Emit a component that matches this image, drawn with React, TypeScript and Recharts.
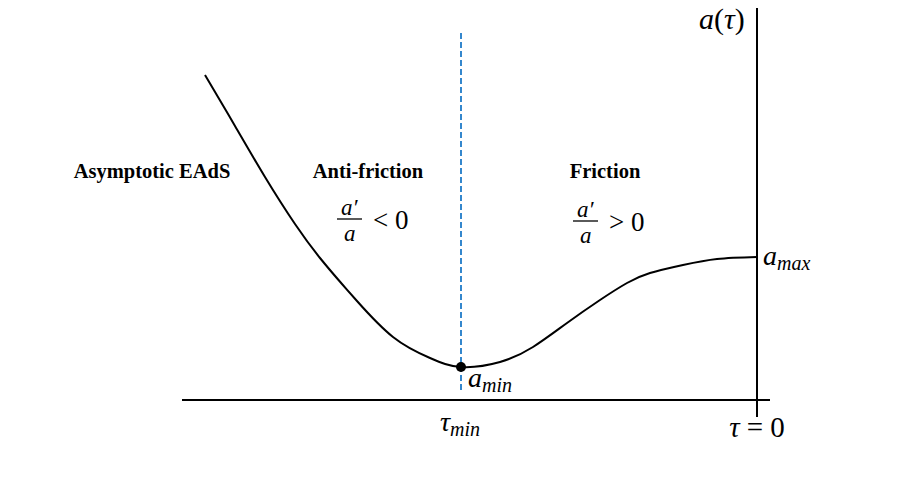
import React from 'react';
import { ComposedChart, Line, XAxis, YAxis, ReferenceLine, ReferenceDot } from 'recharts';

// conformal time tau (tau = 0 at the right) and scale factor a(tau)
const tauValues = [-5.52, -5.22, -4.92, -4.62, -4.37, -4.15, -4.0, -3.64, -3.27, -2.96, -2.57, -2.24, -1.9, -1.57, -1.3, -1.07, -0.74, -0.4, 0];
const scaleValues = [3.25, 2.74, 2.23, 1.76, 1.42, 1.16, 0.99, 0.63, 0.42, 0.33, 0.38, 0.53, 0.77, 1.0, 1.17, 1.27, 1.35, 1.41, 1.43];

const tauMin = -2.96;
const aMin = 0.33;
const aMax = 1.43;

const regionTitles = ['Asymptotic EAdS', 'Anti-friction', 'Friction'];
const regionTitleTau = [-6.05, -3.89, -1.52];
const regionTitleA = [2.22, 2.22, 2.22];

const data = tauValues.map((t, i) => ({ tau: t, a: scaleValues[i] }));

const MATH = '"Liberation Serif", "DejaVu Serif", serif';

const BoldTitle = (label: string) => (p: any) => (
  <text x={p.cx} y={p.cy} textAnchor="middle" fontFamily={MATH} fontWeight="bold" fontSize={20.5} fill="#000">
    {label}
  </text>
);

const Fraction = (op: string) => (p: any) => {
  const x = p.cx;
  const y = p.cy;
  return (
    <g fontFamily={MATH} fill="#000">
      <line x1={x} x2={x + 25} y1={y} y2={y} stroke="#000" strokeWidth={1.3} />
      <text fontSize={23}>
        <tspan x={x + 4} y={y - 4} fontStyle="italic">a′</tspan>
        <tspan x={x + 7} y={y + 22} fontStyle="italic">a</tspan>
        <tspan x={x + 36} y={y + 10} fontSize={27}>{op} 0</tspan>
      </text>
    </g>
  );
};

const SubLabel = (main: string, sub: string, dx: number, dy: number) => (p: any) => (
  <text x={p.cx + dx} y={p.cy + dy} fontFamily={MATH} fill="#000">
    <tspan fontStyle="italic" fontSize={28}>{main}</tspan>
    <tspan fontStyle="italic" fontSize={20} dy={5}>{sub}</tspan>
  </text>
);

const ATau = (p: any) => (
  <text x={p.cx - 58} y={p.cy + 21} fontFamily={MATH} fill="#000" fontSize={30}>
    <tspan fontStyle="italic">a</tspan>
    <tspan>(</tspan>
    <tspan fontStyle="italic">τ</tspan>
    <tspan>)</tspan>
  </text>
);

const TauZero = (p: any) => (
  <text x={p.cx} y={p.cy + 37} textAnchor="middle" fontFamily={MATH} fill="#000" fontSize={29}>
    <tspan fontStyle="italic">τ</tspan>
    <tspan> = 0</tspan>
  </text>
);

const TauMinLabel = (p: any) => (
  <text x={p.cx - 21} y={p.cy + 31} fontFamily={MATH} fill="#000">
    <tspan fontStyle="italic" fontSize={28}>τ</tspan>
    <tspan fontStyle="italic" fontSize={20} dy={5}>min</tspan>
  </text>
);

export default function App() {
  return (
    <div style={{ position: 'absolute', left: 0, top: 0, background: '#fff' }}>
      <ComposedChart width={898} height={490} data={data} margin={{ top: 8, right: 128, bottom: 90, left: 182 }}>
        <XAxis type="number" dataKey="tau" domain={[-5.75, 0.13]} hide />
        <YAxis type="number" domain={[0, 3.92]} hide />
        <ReferenceLine y={0} stroke="#000" strokeWidth={2} ifOverflow="visible" />
        <ReferenceLine segment={[{ x: 0, y: -0.17 }, { x: 0, y: 3.92 }]} stroke="#000" strokeWidth={2} ifOverflow="visible" />
        <ReferenceLine segment={[{ x: tauMin, y: 0.1 }, { x: tauMin, y: 3.68 }]} stroke="#1f7bc8" strokeWidth={1.8} strokeDasharray="6 3" ifOverflow="visible" />
        <Line type="natural" dataKey="a" stroke="#000" strokeWidth={2} dot={false} isAnimationActive={false} />
        <ReferenceDot x={tauMin} y={aMin} r={5} fill="#000" stroke="none" ifOverflow="visible" />
        {regionTitles.map((t, i) => (
          <ReferenceDot key={t} x={regionTitleTau[i]} y={regionTitleA[i]} r={0} shape={BoldTitle(t)} ifOverflow="visible" />
        ))}
        <ReferenceDot x={-4.2} y={1.81} r={0} shape={Fraction('<')} ifOverflow="visible" />
        <ReferenceDot x={-1.84} y={1.79} r={0} shape={Fraction('>')} ifOverflow="visible" />
        <ReferenceDot x={0} y={aMax} r={0} shape={SubLabel('a', 'max', 6, 8)} ifOverflow="visible" />
        <ReferenceDot x={tauMin} y={aMin} r={0} shape={SubLabel('a', 'min', 7, 20)} ifOverflow="visible" />
        <ReferenceDot x={0} y={3.92} r={0} shape={ATau} ifOverflow="visible" />
        <ReferenceDot x={tauMin} y={0} r={0} shape={TauMinLabel} ifOverflow="visible" />
        <ReferenceDot x={0} y={0} r={0} shape={TauZero} ifOverflow="visible" />
      </ComposedChart>
    </div>
  );
}
